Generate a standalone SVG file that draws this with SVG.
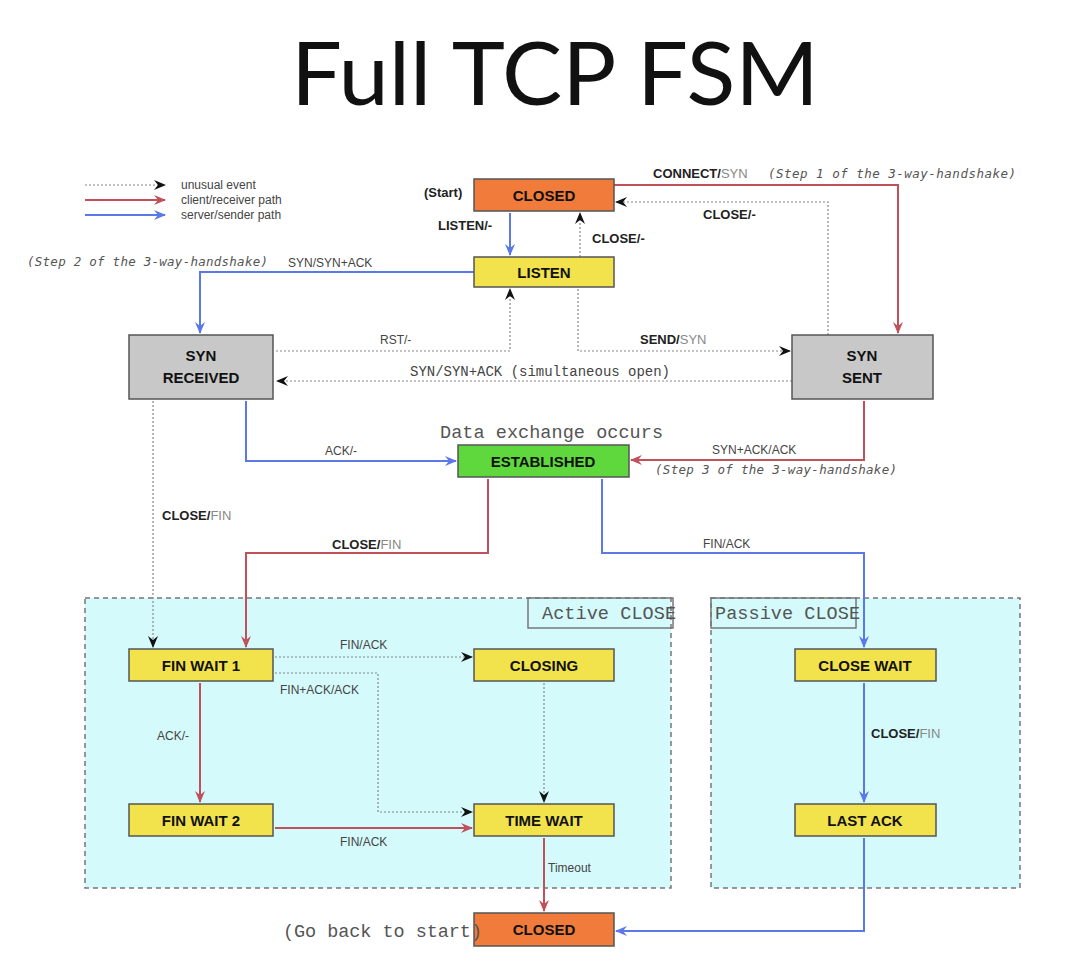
<svg xmlns="http://www.w3.org/2000/svg" width="1067" height="961" viewBox="0 0 1067 961">
<style>
.n rect{stroke:#555;stroke-width:1.5}
.n text{font-family:"Liberation Sans",Arial,sans-serif;font-weight:bold;font-size:15px;fill:#111;text-anchor:middle}
.closed rect{fill:#f07b3a}
.yel rect{fill:#f2e34c}
.gray rect{fill:#c8c8c8}
.grn rect{fill:#5fd83e}
.red{stroke:#c0505a;stroke-width:2;fill:none}
.blue{stroke:#5a78e8;stroke-width:2;fill:none}
.dot{stroke:#888;stroke-width:1.2;stroke-dasharray:2 2;fill:none}
.lb{font-family:"Liberation Sans",Arial,sans-serif;font-size:12px;fill:#444}
.bl{font-family:"Liberation Sans",Arial,sans-serif;font-size:13px;font-weight:bold;fill:#222}
.gr{font-weight:normal;fill:#888}
.mono{font-family:"Liberation Mono","DejaVu Sans Mono",monospace;font-size:14px;fill:#444}
.it{font-family:"DejaVu Sans Mono","Liberation Mono",monospace;font-size:12.5px;font-style:italic;fill:#555}
.big{font-family:"Liberation Mono","DejaVu Sans Mono",monospace;font-size:18.5px;fill:#555}
.clu{fill:#d4fafb;stroke:#777;stroke-width:1.5;stroke-dasharray:5 4}
.tag{fill:none;stroke:#777;stroke-width:1.5}
</style>
<defs>
<marker id="ar" markerWidth="12" markerHeight="10" refX="11" refY="5" orient="auto" markerUnits="userSpaceOnUse"><path d="M0,0 L12,5 L0,10 L4,5 z" fill="#c0505a"/></marker>
<marker id="ab" markerWidth="12" markerHeight="10" refX="11" refY="5" orient="auto" markerUnits="userSpaceOnUse"><path d="M0,0 L12,5 L0,10 L4,5 z" fill="#5a78e8"/></marker>
<marker id="ak" markerWidth="12" markerHeight="10" refX="11" refY="5" orient="auto" markerUnits="userSpaceOnUse"><path d="M0,0 L12,5 L0,10 L4,5 z" fill="#111"/></marker>
</defs>
<rect width="1067" height="961" fill="#fff"/>
<text x="555" y="105" font-family="Lato,'Open Sans',sans-serif" font-size="88" fill="#111" text-anchor="middle" textLength="528" lengthAdjust="spacingAndGlyphs">Full TCP FSM</text>

<g id="clusters">
<rect class="clu" x="85" y="598" width="586" height="290"/>
<rect class="tag" x="528" y="598" width="145" height="30"/>
<text class="big" x="542" y="619" textLength="134">Active CLOSE</text>
<rect class="clu" x="711" y="598" width="309" height="290"/>
<rect class="tag" x="711" y="598" width="145" height="30"/>
<text class="big" x="715" y="619" textLength="145">Passive CLOSE</text>
</g>

<g id="legend">
<line class="dot" x1="85" y1="185" x2="165" y2="185" marker-end="url(#ak)"/>
<line class="red" x1="85" y1="200" x2="165" y2="200" marker-end="url(#ar)"/>
<line class="blue" x1="85" y1="215" x2="165" y2="215" marker-end="url(#ab)"/>
<text class="lb" x="181" y="189" font-size="11">unusual event</text>
<text class="lb" x="181" y="204" font-size="11">client/receiver path</text>
<text class="lb" x="181" y="219" font-size="11">server/sender path</text>
</g>

<g id="connectors">
<polyline class="red" points="614,185 898,185 898,333" marker-end="url(#ar)"/>
<polyline class="dot" points="828,335 828,202 616,202" marker-end="url(#ak)"/>
<line class="blue" x1="510" y1="213" x2="510" y2="255" marker-end="url(#ab)"/>
<line class="dot" x1="580" y1="257" x2="580" y2="213" marker-end="url(#ak)"/>
<polyline class="blue" points="474,272 200,272 200,333" marker-end="url(#ab)"/>
<polyline class="dot" points="276,351 510,351 510,289" marker-end="url(#ak)"/>
<polyline class="dot" points="578,289 578,351 790,351" marker-end="url(#ak)"/>
<line class="dot" x1="792" y1="381" x2="277" y2="381" marker-end="url(#ak)"/>
<polyline class="blue" points="246,401 246,461 456,461" marker-end="url(#ab)"/>
<polyline class="red" points="864,401 864,460 631,460" marker-end="url(#ar)"/>
<line class="dot" x1="153" y1="401" x2="153" y2="647" marker-end="url(#ak)"/>
<polyline class="red" points="488,479 488,553 246,553 246,647" marker-end="url(#ar)"/>
<polyline class="blue" points="602,479 602,553 864,553 864,647" marker-end="url(#ab)"/>
<line class="dot" x1="275" y1="657" x2="472" y2="657" marker-end="url(#ak)"/>
<polyline class="dot" points="275,673 378,673 378,812 472,812" marker-end="url(#ak)"/>
<line class="red" x1="200" y1="683" x2="200" y2="802" marker-end="url(#ar)"/>
<line class="red" x1="275" y1="828" x2="472" y2="828" marker-end="url(#ar)"/>
<line class="dot" x1="544" y1="683" x2="544" y2="802" marker-end="url(#ak)"/>
<line class="red" x1="544" y1="838" x2="544" y2="911" marker-end="url(#ar)"/>
<line class="blue" x1="864" y1="683" x2="864" y2="802" marker-end="url(#ab)"/>
<polyline class="blue" points="864,838 864,931 616,931" marker-end="url(#ab)"/>
</g>

<g id="labels">
<text class="bl" x="653" y="178">CONNECT/<tspan class="gr">SYN</tspan></text>
<text class="it" x="768" y="178" textLength="248">(Step 1 of the 3-way-handshake)</text>
<text class="bl" x="703" y="219" font-size="12">CLOSE/-</text>
<text class="bl" x="438" y="230">LISTEN/-</text>
<text class="bl" x="592" y="243">CLOSE/-</text>
<text class="lb" x="288" y="267" font-size="13">SYN/SYN+ACK</text>
<text class="it" x="27" y="266" textLength="241">(Step 2 of the 3-way-handshake)</text>
<text class="lb" x="380" y="344">RST/-</text>
<text class="bl" x="640" y="344">SEND/<tspan class="gr">SYN</tspan></text>
<text class="mono" x="410" y="376" textLength="260">SYN/SYN+ACK (simultaneous open)</text>
<text class="big" x="440" y="438" textLength="223">Data exchange occurs</text>
<text class="lb" x="325" y="455">ACK/-</text>
<text class="lb" x="712" y="454">SYN+ACK/ACK</text>
<text class="it" x="655" y="474" textLength="242">(Step 3 of the 3-way-handshake)</text>
<text class="bl" x="162" y="520">CLOSE/<tspan class="gr">FIN</tspan></text>
<text class="bl" x="332" y="549">CLOSE/<tspan class="gr">FIN</tspan></text>
<text class="lb" x="703" y="548">FIN/ACK</text>
<text class="lb" x="340" y="649">FIN/ACK</text>
<text class="lb" x="280" y="694">FIN+ACK/ACK</text>
<text class="lb" x="157" y="740">ACK/-</text>
<text class="lb" x="340" y="846">FIN/ACK</text>
<text class="lb" x="548" y="872">Timeout</text>
<text class="bl" x="871" y="738">CLOSE/<tspan class="gr">FIN</tspan></text>
<text class="bl" x="424" y="197">(Start)</text>
</g>

<g id="closed-top" class="n closed"><rect x="474" y="179" width="140" height="32"/><text x="544" y="201">CLOSED</text></g>
<g id="listen" class="n yel"><rect x="474" y="257" width="140" height="30"/><text x="544" y="278">LISTEN</text></g>
<g id="syn-received" class="n gray"><rect x="129" y="335" width="144" height="64"/><text x="201" y="361">SYN</text><text x="201" y="383">RECEIVED</text></g>
<g id="syn-sent" class="n gray"><rect x="792" y="335" width="141" height="64"/><text x="862" y="361">SYN</text><text x="862" y="383">SENT</text></g>
<g id="established" class="n grn"><rect x="458" y="445" width="171" height="32"/><text x="543" y="467">ESTABLISHED</text></g>
<g id="fin-wait-1" class="n yel"><rect x="129" y="649" width="144" height="32"/><text x="201" y="671">FIN WAIT 1</text></g>
<g id="closing" class="n yel"><rect x="474" y="649" width="140" height="32"/><text x="544" y="671">CLOSING</text></g>
<g id="fin-wait-2" class="n yel"><rect x="129" y="804" width="144" height="32"/><text x="201" y="826">FIN WAIT 2</text></g>
<g id="time-wait" class="n yel"><rect x="474" y="804" width="140" height="32"/><text x="544" y="826">TIME WAIT</text></g>
<g id="close-wait" class="n yel"><rect x="795" y="649" width="141" height="32"/><text x="865" y="671">CLOSE WAIT</text></g>
<g id="last-ack" class="n yel"><rect x="795" y="804" width="141" height="32"/><text x="865" y="826">LAST ACK</text></g>
<g id="closed-bottom" class="n closed"><rect x="474" y="913" width="140" height="33"/><text x="544" y="935">CLOSED</text></g>

<g id="bottom-note">
<text class="big" x="283" y="937" textLength="199">(Go back to start)</text>
</g>
</svg>
